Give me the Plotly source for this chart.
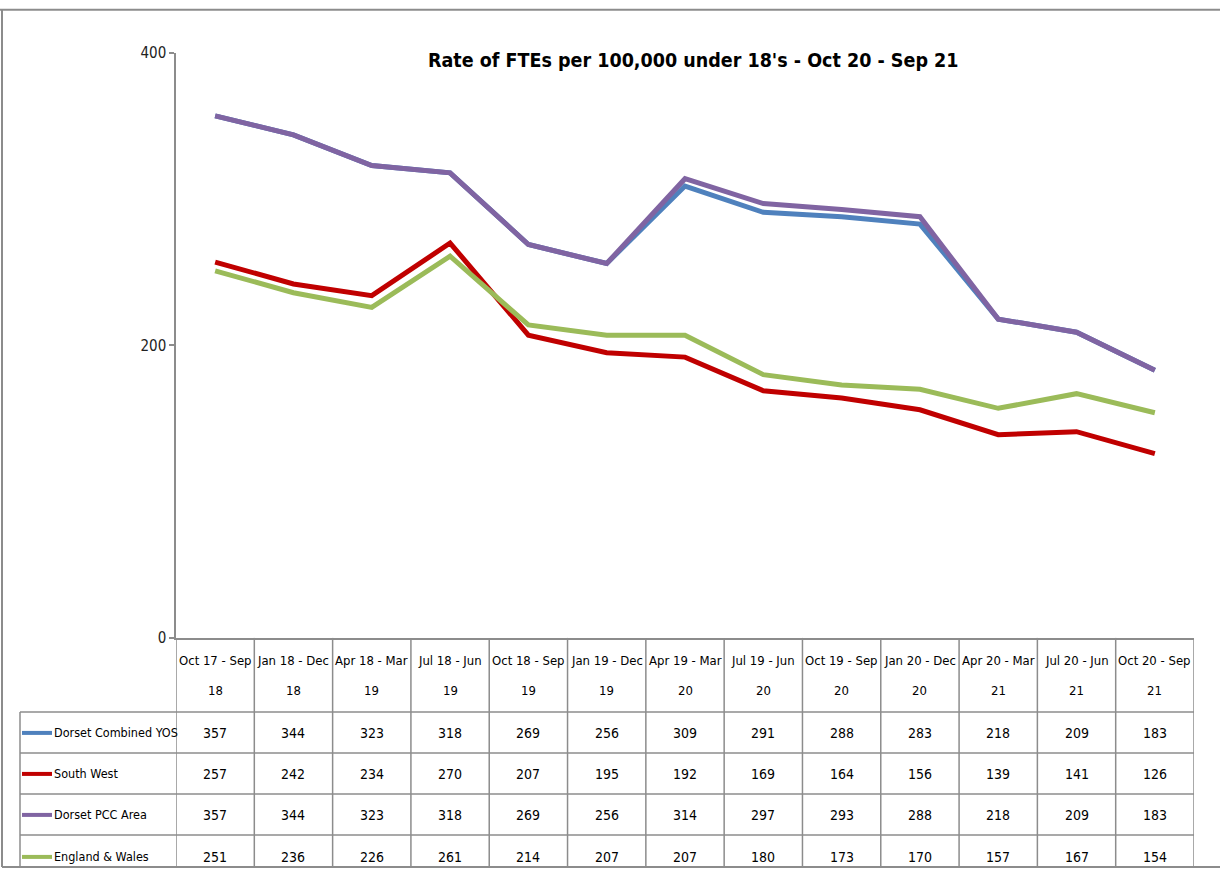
import plotly.graph_objects as go

categories = ["Oct 17 - Sep 18", "Jan 18 - Dec 18", "Apr 18 - Mar 19", "Jul 18 - Jun 19",
              "Oct 18 - Sep 19", "Jan 19 - Dec 19", "Apr 19 - Mar 20", "Jul 19 - Jun 20",
              "Oct 19 - Sep 20", "Jan 20 - Dec 20", "Apr 20 - Mar 21", "Jul 20 - Jun 21",
              "Oct 20 - Sep 21"]
header_line1 = ["Oct 17 - Sep", "Jan 18 - Dec", "Apr 18 - Mar", "Jul 18 - Jun", "Oct 18 - Sep",
                "Jan 19 - Dec", "Apr 19 - Mar", "Jul 19 - Jun", "Oct 19 - Sep", "Jan 20 - Dec",
                "Apr 20 - Mar", "Jul 20 - Jun", "Oct 20 - Sep"]
header_line2 = ["18", "18", "19", "19", "19", "19", "20", "20", "20", "20", "21", "21", "21"]

dorset_yos = [357, 344, 323, 318, 269, 256, 309, 291, 288, 283, 218, 209, 183]
south_west = [257, 242, 234, 270, 207, 195, 192, 169, 164, 156, 139, 141, 126]
dorset_pcc = [357, 344, 323, 318, 269, 256, 314, 297, 293, 288, 218, 209, 183]
england_wales = [251, 236, 226, 261, 214, 207, 207, 180, 173, 170, 157, 167, 154]

series_names = ["Dorset Combined YOS", "South West", "Dorset PCC Area", "England & Wales"]
series_values = [dorset_yos, south_west, dorset_pcc, england_wales]
series_colors = ["#4F81BD", "#C00000", "#8064A2", "#9BBB59"]

title = "Rate of FTEs per 100,000 under 18's - Oct 20 - Sep 21"
y_ticks = [0, 200, 400]

W, H = 1220, 877
FONT = "Noto Sans Condensed, DejaVu Sans Condensed, sans-serif"
TFONT = "Noto Sans ExtraCondensed, DejaVu Sans Condensed, sans-serif"


def px(x):
    return x / W


def py(y):
    # target picture pixel -> paper coordinate (compensates the capture's vertical mapping)
    fy = (y - 8.07) / 0.9795
    fy = min(max(fy, 0.75), H - 1.0)
    return 1 - fy / H


plot_left, plot_right = 176, 1194
plot_top, plot_bottom = 52, 637
legend_left = 20
row_edges = [711, 752, 793, 834, 875]
row_centers = [732, 773, 814, 856]

fig = go.Figure()
xs = list(range(len(categories)))
for name, vals, col in zip(series_names, series_values, series_colors):
    fig.add_trace(go.Scatter(x=xs, y=vals, mode="lines", name=name,
                             line=dict(color=col, width=5), showlegend=False))

shapes = []
annotations = []
gray = "#8C8C8C"

shapes.append(dict(type="line", xref="paper", yref="paper", x0=0, x1=1,
                   y0=py(1), y1=py(1), line=dict(color=gray, width=2)))
shapes.append(dict(type="line", xref="paper", yref="paper", x0=px(2), x1=px(2),
                   y0=py(1), y1=py(876), line=dict(color=gray, width=2)))
shapes.append(dict(type="line", xref="paper", yref="paper", x0=px(2), x1=1,
                   y0=py(876), y1=py(876), line=dict(color=gray, width=2)))

n = len(categories)
for k in range(n + 1):
    shapes.append(dict(type="line", xref="x", yref="paper", x0=k - 0.5, x1=k - 0.5,
                       y0=py(plot_bottom), y1=py(row_edges[-1]),
                       line=dict(color=gray, width=1.5)))
shapes.append(dict(type="line", xref="paper", yref="paper", x0=px(legend_left), x1=px(legend_left),
                   y0=py(row_edges[0]), y1=py(row_edges[-1]), line=dict(color=gray, width=1.5)))
for r in row_edges:
    shapes.append(dict(type="line", xref="paper", yref="paper", x0=px(legend_left), x1=px(plot_right),
                       y0=py(r), y1=py(r), line=dict(color=gray, width=1.5)))

for k in range(n):
    annotations.append(dict(x=k, y=py(660), xref="x", yref="paper", text=header_line1[k],
                            showarrow=False, font=dict(family=FONT, size=13, color="#000"),
                            xanchor="center", yanchor="middle"))
    annotations.append(dict(x=k, y=py(690), xref="x", yref="paper", text=header_line2[k],
                            showarrow=False, font=dict(family=FONT, size=13, color="#000"),
                            xanchor="center", yanchor="middle"))

for i, (name, vals, col) in enumerate(zip(series_names, series_values, series_colors)):
    cy = row_centers[i]
    shapes.append(dict(type="line", xref="paper", yref="paper", x0=px(22), x1=px(52),
                       y0=py(cy), y1=py(cy), line=dict(color=col, width=4)))
    annotations.append(dict(x=px(52), y=py(cy), xref="paper", yref="paper", text=name,
                            showarrow=False, font=dict(family=FONT, size=12.5, color="#000"),
                            xanchor="left", yanchor="middle"))
    for k, v in enumerate(vals):
        annotations.append(dict(x=k, y=py(cy), xref="x", yref="paper", text=str(v),
                                showarrow=False, font=dict(family=FONT, size=14, color="#000"),
                                xanchor="center", yanchor="middle"))

annotations.append(dict(x=px(693), y=py(60), xref="paper", yref="paper", text="<b>" + title + "</b>",
                        showarrow=False, font=dict(family=TFONT, size=19.5, color="#000"),
                        xanchor="center", yanchor="middle"))

fig.update_layout(
    width=W, height=H,
    margin=dict(l=0, r=0, t=0, b=0, pad=0),
    paper_bgcolor="white", plot_bgcolor="white",
    showlegend=False,
    xaxis=dict(domain=[px(plot_left), px(plot_right)], range=[-0.5, n - 0.5],
               showticklabels=False, showgrid=False, zeroline=False, ticks="",
               showline=True, linecolor=gray, linewidth=1.5, fixedrange=True),
    yaxis=dict(domain=[py(plot_bottom), py(plot_top)], range=[0, 400],
               tickvals=y_ticks, ticktext=[str(t) for t in y_ticks],
               ticks="outside", ticklen=5, tickcolor=gray, tickwidth=1.5,
               showline=True, linecolor=gray, linewidth=1.5,
               showgrid=False, zeroline=False,
               tickfont=dict(family=FONT, size=15, color="#222"), fixedrange=True),
    shapes=shapes,
    annotations=annotations,
)

fig.write_html("out.html", config={"displayModeBar": False},
               post_script="document.body.style.margin='0';document.body.style.overflow='hidden';")
